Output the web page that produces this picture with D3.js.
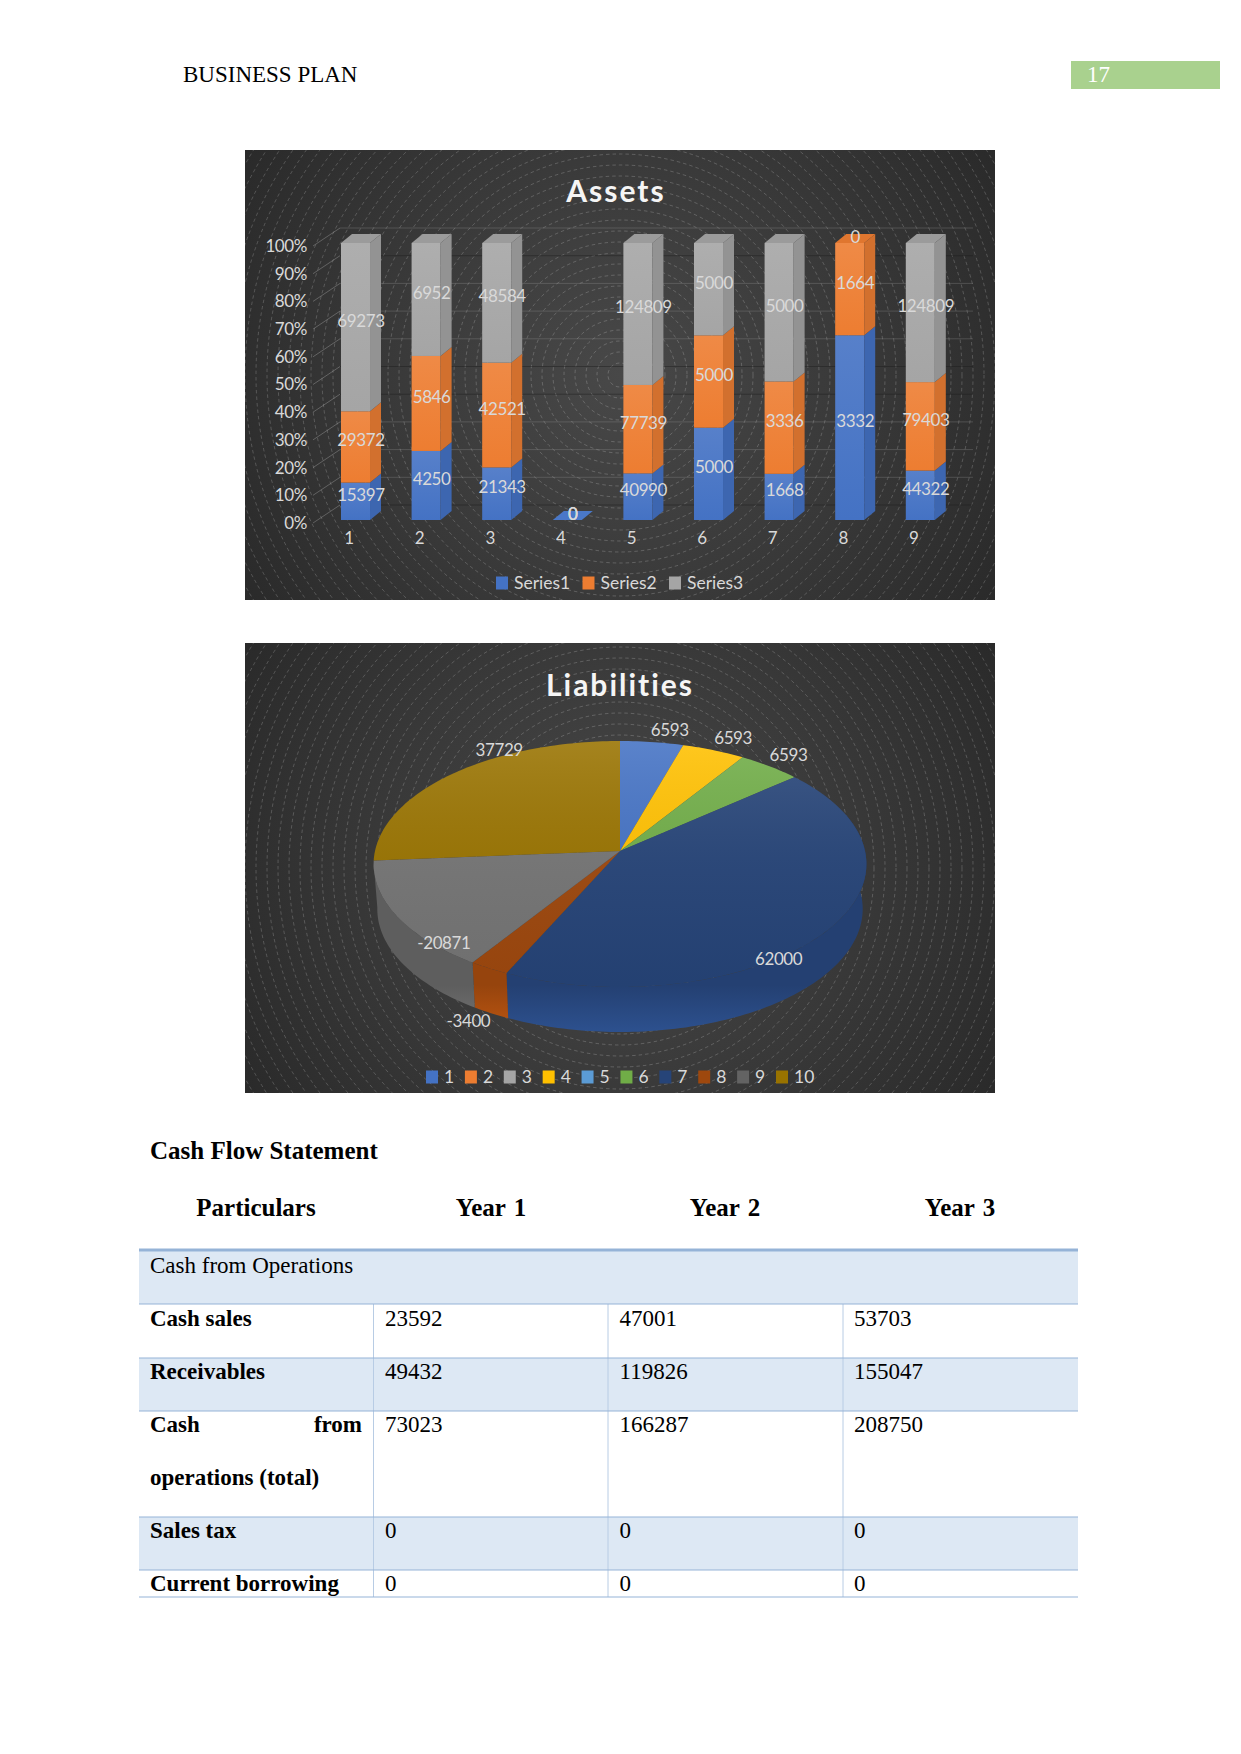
<!DOCTYPE html>
<html>
<head>
<meta charset="utf-8">
<script src="https://cdn.jsdelivr.net/npm/d3@7"></script>
<style>
  body { margin: 0; background: #fff; }
  .serif { font-family: "Liberation Serif", serif; }
  .sans { font-family: Lato, sans-serif; }
</style>
</head>
<body>
<svg id="page" width="1241" height="1754"></svg>
<script>
// Assets chart data
const assetCats = ['1', '2', '3', '4', '5', '6', '7', '8', '9']
const series1 = [15397, 4250, 21343, 0, 40990, 5000, 1668, 3332, 44322]
const series2 = [29372, 5846, 42521, 0, 77739, 5000, 3336, 1664, 79403]
const series3 = [69273, 6952, 48584, 0, 124809, 5000, 5000, 0, 124809]
const assetSeries = ['Series1', 'Series2', 'Series3']
const pctTicks = [0, 0.1, 0.2, 0.3, 0.4, 0.5, 0.6, 0.7, 0.8, 0.9, 1]
const darkGrid = [0, 0.4, 0.5, 0.9]

// Liabilities chart data
const liabCats = ['1', '2', '3', '4', '5', '6', '7', '8', '9', '10']
const liabValues = [6593, 0, 0, 6593, 0, 6593, 62000, -3400, -20871, 37729]
const liabColors = ['#4472c4', '#ed7d31', '#a5a5a5', '#ffc000', '#5b9bd5', '#70ad47', '#264478', '#9e480e', '#636363', '#997300']

// Cash flow table
const tableYears = ['Year 1', 'Year 2', 'Year 3']
const rowLabels = ['Cash sales', 'Receivables', 'Cash from operations (total)', 'Sales tax', 'Current borrowing']
const year1 = [23592, 49432, 73023, 0, 0]
const year2 = [47001, 119826, 166287, 0, 0]
const year3 = [53703, 155047, 208750, 0, 0]

const svg = d3.select('#page')
const defs = svg.append('defs')
const serifSize = 23
const headSize = 25

// ---- page header
svg.append('text').attr('class', 'serif')
    .attr('x', 183).attr('y', 82)
    .attr('font-size', serifSize).text('BUSINESS PLAN')
svg.append('rect').attr('x', 1071).attr('y', 61).attr('width', 149).attr('height', 28).attr('fill', '#a9d18e')
svg.append('text').attr('class', 'serif')
    .attr('x', 1087).attr('y', 82)
    .attr('font-size', serifSize).attr('fill', '#fff').text('17')

// dark panel with the dashed rings behind both charts
const panel = (id, x, y, w, h) => {
    const grad = defs.append('radialGradient').attr('id', id + 'Bg')
        .attr('gradientUnits', 'userSpaceOnUse')
        .attr('cx', x + w / 2).attr('cy', y + h / 2).attr('r', w * 0.6)
    grad.append('stop').attr('offset', 0).attr('stop-color', '#484848')
    grad.append('stop').attr('offset', 0.55).attr('stop-color', '#383838')
    grad.append('stop').attr('offset', 1).attr('stop-color', '#292929')

    defs.append('clipPath').attr('id', id + 'Clip')
        .append('rect').attr('x', x).attr('y', y).attr('width', w).attr('height', h)

    const g = svg.append('g').attr('clip-path', `url(#${id}Clip)`)
    g.append('rect').attr('x', x).attr('y', y).attr('width', w).attr('height', h)
        .attr('fill', `url(#${id}Bg)`)
    g.selectAll('circle')
        .data(d3.range(12, 480, 11))
        .join('circle')
        .attr('cx', x + w / 2).attr('cy', y + h / 2).attr('r', d => d)
        .attr('fill', 'none').attr('stroke', '#fff')
        .attr('stroke-opacity', 0.32).attr('stroke-width', 0.6)
        .attr('stroke-dasharray', '3.5 3')
}
panel('assets', 245, 150, 750, 450)
panel('liab', 245, 643, 750, 450)

// ---- Assets: 3D stacked bars
const chartTitle = (txt, x, y) => svg.append('text').attr('class', 'sans')
    .attr('x', x).attr('y', y).attr('text-anchor', 'middle').attr('dominant-baseline', 'central')
    .attr('font-size', 30).attr('font-weight', 700).attr('letter-spacing', 2)
    .attr('fill', '#f5f5f5').text(txt)
chartTitle('Assets', 616, 190)

const x = d3.scaleBand().domain(assetCats).range([320.2, 955.6]).paddingInner(0.589).paddingOuter(0.2945)
const y = d3.scaleLinear().domain([0, 1]).range([520, 243])
const barDepth = { dx: 11, dy: 9 }

const wall = svg.append('g')
wall.selectAll('line.diag').data(pctTicks).join('line').attr('class', 'diag')
    .attr('x1', 313).attr('x2', 340)
    .attr('y1', d => y(d) + 3).attr('y2', d => y(d) - 15)
    .attr('stroke', '#bbb').attr('stroke-opacity', 0.5).attr('stroke-width', 0.7)
wall.selectAll('line.grid').data(pctTicks).join('line').attr('class', 'grid')
    .attr('x1', 340).attr('x2', 973)
    .attr('y1', d => y(d) - 15).attr('y2', d => y(d) - 15)
    .attr('stroke', d => darkGrid.includes(d) ? '#1c1c1c' : '#999')
    .attr('stroke-opacity', d => darkGrid.includes(d) ? 0.45 : 0.3)
    .attr('stroke-width', 1)

const rows = assetCats.map((c, i) => ({ cat: c, Series1: series1[i], Series2: series2[i], Series3: series3[i] }))
const stacked = d3.stack().keys(assetSeries).offset(d3.stackOffsetExpand)(rows)

const barColors = d3.scaleOrdinal().domain(assetSeries).range(['#4472c4', '#ed7d31', '#a5a5a5'])
const barSide = d3.scaleOrdinal().domain(assetSeries).range(['#3d66b0', '#d2702e', '#939393'])
const barTop = d3.scaleOrdinal().domain(assetSeries).range(['#4a78c8', '#e0762f', '#9b9b9b'])

assetSeries.forEach(s => {
    const g = defs.append('linearGradient').attr('id', 'front' + s).attr('x1', 0).attr('x2', 0).attr('y1', 0).attr('y2', 1)
    g.append('stop').attr('offset', 0).attr('stop-color', d3.interpolateRgb(barColors(s), '#fff')(0.1))
    g.append('stop').attr('offset', 1).attr('stop-color', barColors(s))
})

const poly = pts => pts.map(p => p.join(',')).join(' ')
const bars = svg.append('g')
stacked.forEach(layer => {
    const s = layer.key
    const g = bars.append('g')
    g.selectAll('rect').data(layer).join('rect')
        .attr('x', d => x(d.data.cat))
        .attr('width', x.bandwidth())
        .attr('y', d => y(d[1]))
        .attr('height', d => y(d[0]) - y(d[1]))
        .attr('fill', `url(#front${s})`)
    g.selectAll('polygon').data(layer).join('polygon')
        .attr('points', d => {
            const r = x(d.data.cat) + x.bandwidth()
            return poly([[r, y(d[1])], [r + barDepth.dx, y(d[1]) - barDepth.dy], [r + barDepth.dx, y(d[0]) - barDepth.dy], [r, y(d[0])]])
        })
        .attr('fill', barSide(s))
})

// lid of each bar takes the colour of the topmost non-empty segment
rows.forEach((row, i) => {
    let s = assetSeries[0]
    assetSeries.forEach(k => { if (row[k] > 0) s = k })
    const l = x(row.cat), w = x.bandwidth()
    const top = y(row.Series1 + row.Series2 + row.Series3 > 0 ? 1 : 0)
    bars.append('polygon')
        .attr('points', poly([[l, top], [l + w, top], [l + w + barDepth.dx, top - barDepth.dy], [l + barDepth.dx, top - barDepth.dy]]))
        .attr('fill', barTop(s))
})

// data labels
stacked.forEach((layer, si) => {
    const vals = [series1, series2, series3][si]
    svg.append('g').selectAll('text').data(layer).join('text')
        .attr('class', 'sans')
        .attr('x', d => x(d.data.cat) + x.bandwidth() / 2 + barDepth.dx / 2)
        .attr('y', d => (y(d[0]) + y(d[1])) / 2 - 7)
        .attr('text-anchor', 'middle').attr('dominant-baseline', 'central')
        .attr('font-size', 17).attr('letter-spacing', -0.4).attr('fill', '#d9d9d9')
        .text((d, i) => vals[i])
})

// axes
const yAxis = svg.append('g').attr('transform', 'translate(307,3)')
    .call(d3.axisLeft(y).tickValues(pctTicks).tickFormat(d3.format('.0%')).tickSize(0).tickPadding(0))
const xAxis = svg.append('g').attr('transform', 'translate(-6.5,538)')
    .call(d3.axisBottom(x).tickSize(0).tickPadding(0))
xAxis.selectAll('text').attr('y', 0).attr('dy', '.35em')
;[yAxis, xAxis].forEach(a => {
    a.select('.domain').remove()
    a.selectAll('text').attr('class', 'sans').attr('font-size', 17).attr('letter-spacing', -0.4).attr('fill', '#d9d9d9')
        .style('font-family', 'Lato, sans-serif')
})

// legend
const assetLegendX = d3.scalePoint().domain(assetSeries).range([496, 669])
const assetLegend = svg.append('g').selectAll('g').data(assetSeries).join('g')
    .attr('transform', d => `translate(${assetLegendX(d)},582)`)
assetLegend.append('rect').attr('y', -5.5).attr('width', 12).attr('height', 13).attr('fill', d => barColors(d))
assetLegend.append('text').attr('class', 'sans').attr('x', 18)
    .attr('dominant-baseline', 'central').attr('font-size', 17.5).attr('fill', '#d9d9d9').text(d => d)

// ---- Liabilities: 3D pie
chartTitle('Liabilities', 620, 684)

const pieGeo = { cx: 620, cy: 851, A: 245, B: 121.6, k: 0.1057, depth: 45, shrink: 0.985 }
const project = (a, r = 1) => {
    const u = r * Math.sin(a), v = -r * Math.cos(a), d = 1 - pieGeo.k * v
    return [pieGeo.cx + pieGeo.A * u / d, pieGeo.cy + pieGeo.B * v / d]
}
const projectLow = a => {
    const p = project(a)
    return [pieGeo.cx + (p[0] - pieGeo.cx) * pieGeo.shrink, p[1] + pieGeo.depth]
}
const sweep = (a0, a1) => {
    const n = Math.max(2, Math.ceil((a1 - a0) / 0.02))
    return d3.range(n + 1).map(i => a0 + (a1 - a0) * i / n)
}
const slices = d3.pie().sort(null).value(d => Math.abs(d))(liabValues)
const pathOf = d3.line()

liabColors.forEach((c, i) => {
    const g = defs.append('linearGradient').attr('id', 'side' + i)
        .attr('gradientUnits', 'userSpaceOnUse').attr('x1', 0).attr('x2', 0).attr('y1', 985).attr('y2', 1033)
    g.append('stop').attr('offset', 0).attr('stop-color', d3.color(c).darker(0.15))
    g.append('stop').attr('offset', 1).attr('stop-color', d3.color(c).brighter(0.5))
})

// rim first, only the part facing the viewer
const pieG = svg.append('g')
slices.forEach((d, i) => {
    const a0 = Math.max(d.startAngle, Math.PI * 0.4), a1 = Math.min(d.endAngle, Math.PI * 1.47)
    if (a1 <= a0) return
    const angles = sweep(a0, a1)
    pieG.append('path')
        .attr('d', pathOf([...angles.map(a => project(a)), ...angles.reverse().map(projectLow)]) + 'Z')
        .attr('fill', `url(#side${i})`)
})
slices.forEach((d, i) => {
    if (d.endAngle <= d.startAngle) return
    pieG.append('path')
        .attr('d', pathOf([[pieGeo.cx, pieGeo.cy], ...sweep(d.startAngle, d.endAngle).map(a => project(a))]) + 'Z')
        // grey slice catches more of the light than its legend swatch shows
        .attr('fill', i === 8 ? '#757575' : liabColors[i])
})
// lighting over the top face
const sheen = defs.append('linearGradient').attr('id', 'sheen')
    .attr('gradientUnits', 'userSpaceOnUse').attr('x1', 0).attr('x2', 0).attr('y1', 741).attr('y2', 987)
sheen.append('stop').attr('offset', 0).attr('stop-color', '#fff').attr('stop-opacity', 0.12)
sheen.append('stop').attr('offset', 0.5).attr('stop-color', '#808080').attr('stop-opacity', 0.06)
sheen.append('stop').attr('offset', 1).attr('stop-color', '#000').attr('stop-opacity', 0.05)
pieG.append('path')
    .attr('d', pathOf(sweep(0, Math.PI * 2).map(a => project(a))) + 'Z')
    .attr('fill', 'url(#sheen)')

// label spots: radius along the slice midline plus a hand nudge, Excel "best fit" style
const pieLabelSpot = {
    0: { r: 1.1, dx: 15, dy: -3 },
    3: { r: 1.1, dx: 11, dy: -4 },
    5: { r: 1.1, dx: 5, dy: -4 },
    6: { r: 0.8, dx: -6, dy: 46 },
    7: { r: 1.1, dx: -6, dy: 39 },
    8: { r: 0.95, dx: 35, dy: 30 },
    9: { r: 1, dx: 47, dy: -24 }
}
svg.append('g').selectAll('text')
    .data(slices.filter(d => d.value > 0))
    .join('text')
    .attr('class', 'sans')
    .attr('x', d => project((d.startAngle + d.endAngle) / 2, pieLabelSpot[d.index].r)[0] + pieLabelSpot[d.index].dx)
    .attr('y', d => project((d.startAngle + d.endAngle) / 2, pieLabelSpot[d.index].r)[1] + pieLabelSpot[d.index].dy)
    .attr('text-anchor', 'middle').attr('dominant-baseline', 'central')
    .attr('font-size', 17).attr('letter-spacing', -0.4).attr('fill', '#d9d9d9')
    .text(d => d.data)

const liabLegendX = d3.scalePoint().domain(liabCats).range([426, 776])
const liabLegend = svg.append('g').selectAll('g').data(liabCats).join('g')
    .attr('transform', d => `translate(${liabLegendX(d)},1076)`)
liabLegend.append('rect').attr('y', -5.5).attr('width', 12).attr('height', 13).attr('fill', (d, i) => liabColors[i])
liabLegend.append('text').attr('class', 'sans').attr('x', 18)
    .attr('dominant-baseline', 'central').attr('font-size', 17.5).attr('fill', '#d9d9d9').text(d => d)

// ---- Cash flow table
const bold = (txt, tx, ty, anchor = 'start', size = serifSize) => svg.append('text').attr('class', 'serif')
    .attr('x', tx).attr('y', ty).attr('text-anchor', anchor)
    .attr('font-size', size).attr('font-weight', 700).text(txt)

bold('Cash Flow Statement', 150, 1159, 'start', headSize)
bold('Particulars', 256, 1216, 'middle', headSize)
tableYears.forEach((t, i) => bold(t, [491, 725, 960][i], 1216, 'middle', headSize).attr('word-spacing', 2))

const left = 139, right = 1078
const colX = [373.5, 608, 843]
const rowY = [1250, 1304, 1358, 1411, 1517, 1570, 1597]
const tbl = svg.append('g')
;[0, 2, 4].forEach(i => tbl.append('rect')
    .attr('x', left).attr('y', rowY[i]).attr('width', right - left).attr('height', rowY[i + 1] - rowY[i])
    .attr('fill', '#dde8f4'))
colX.forEach(cx => tbl.append('line')
    .attr('x1', cx).attr('x2', cx).attr('y1', rowY[1]).attr('y2', rowY[6])
    .attr('stroke', '#b8cce4').attr('stroke-width', 1))
rowY.forEach((ry, i) => tbl.append('line')
    .attr('x1', left).attr('x2', right).attr('y1', ry).attr('y2', ry)
    .attr('stroke', '#95b3d7').attr('stroke-width', i === 0 ? 3 : 1))

svg.append('text').attr('class', 'serif').attr('x', 150).attr('y', 1273)
    .attr('font-size', serifSize).text('Cash from Operations')

const baseY = [1326, 1379, 1432, 1538, 1591]
rowLabels.forEach((lab, i) => {
    if (i === 2) {
        bold('Cash', 150, baseY[i])
        bold('from', 362, baseY[i], 'end')
        bold('operations (total)', 150, 1485)
    } else {
        bold(lab, 150, baseY[i])
    }
})
;[year1, year2, year3].forEach((col, c) => {
    svg.append('g').selectAll('text').data(col).join('text')
        .attr('class', 'serif')
        .attr('x', [385, 619.5, 854][c])
        .attr('y', (d, i) => baseY[i])
        .attr('font-size', serifSize)
        .text(d => d)
})
</script>
</body>
</html>
